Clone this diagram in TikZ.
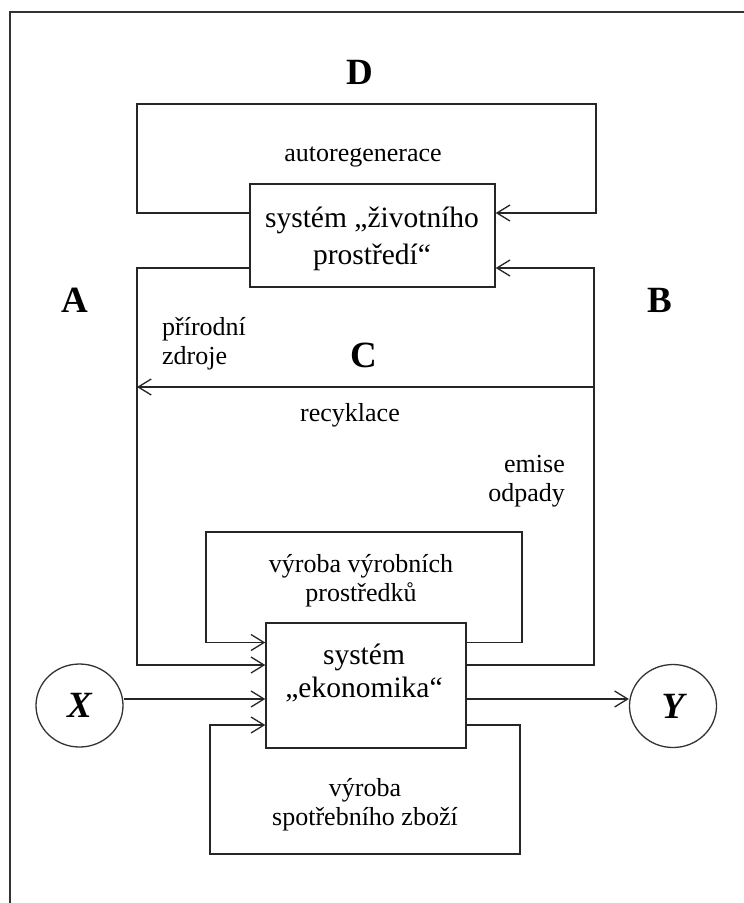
\documentclass[tikz,border=0pt]{standalone}
\usepackage{fontspec}
\setmainfont{Liberation Serif}
\usetikzlibrary{arrows.meta,shapes.geometric}
\begin{document}
\begin{tikzpicture}[x=1pt,y=-1pt,
  ln/.style={draw=black!85, line width=1.5pt},
  arr/.style={ln, -{Straight Barb[length=13pt,width=16pt,line width=1.3pt]}},
  sysbox/.style={draw=black!85, line width=1.5pt, rectangle, inner sep=0pt},
  circ/.style={draw=black!80, line width=1.3pt, ellipse, inner sep=0pt, minimum width=87pt, minimum height=83pt, font=\fontsize{37}{40}\selectfont\itshape\bfseries},
  lbl/.style={inner sep=0pt, font=\fontsize{26}{29}\selectfont},
  boxtxtA/.style={inner sep=0pt, align=center, font=\fontsize{29.5}{37}\selectfont},
  boxtxtB/.style={inner sep=0pt, align=center, font=\fontsize{29.5}{33}\selectfont},
  letter/.style={inner sep=0pt, font=\fontsize{37}{40}\selectfont\bfseries},
  frame/.style={draw=black!80, line width=2pt}
]
\useasboundingbox (0,0) rectangle (744,903);
\fill[white] (0,0) rectangle (744,903);
\draw[frame] (10,903) -- (10,12) -- (744,12);

% main boxes
\node[sysbox, minimum width=245pt, minimum height=103pt] (env) at (372.5,235.5) {};
\node[sysbox, minimum width=200pt, minimum height=125pt] (econ) at (366,685.5) {};
\node[boxtxtA] (envtxt) at (372,238.5) {systém „životního\\prostředí“};
\node[boxtxtB] (econtxt) at (364,673.5) {systém\\„ekonomika“};

% input/output circles
\node[circ] (X) at (79.5,705.5) {X};
\node[circ] (Y) at (673,706) {Y};

% helper coordinates
\coordinate (yD) at (0,213);
\coordinate (yA) at (0,268);
\coordinate (yVV) at (0,642.5);
\coordinate (yAB) at (0,665);
\coordinate (yXY) at (0,699);
\coordinate (ySZ) at (0,725);
\coordinate (cR) at (594,387);
\coordinate (cL) at (137,387);

% connectors
\draw[arr] (env.west |- yD) -| (137,104) -| (596,213) -- (env.east |- yD);
\draw[arr] (env.west |- yA) -| (137,665) -- (econ.west |- yAB);
\draw[arr] (econ.east |- yAB) -| (594,268) -- (env.east |- yA);
\draw[arr] (cR) -- (cL);
\draw[arr] (econ.east |- yVV) -| (522,532) -| (206,642.5) -- (econ.west |- yVV);
\draw[arr] (econ.east |- ySZ) -| (520,854) -| (210,725) -- (econ.west |- ySZ);
\draw[arr] (X.east |- yXY) -- (econ.west |- yXY);
\draw[arr] (econ.east |- yXY) -- (Y.west |- yXY);

% letters
\node[letter] (D) at (360,72) {D};
\node[letter] (A) at (75,300) {A};
\node[letter] (B) at (660,300) {B};
\node[letter] (C) at (364,355) {C};

% labels
\node[lbl] (autoreg) at (363,157) {autoregenerace};
\node[lbl, align=left, anchor=west] (zdroje) at (162,344) {přírodní\\zdroje};
\node[lbl] (recykl) at (350,415) {recyklace};
\node[lbl, align=right, anchor=east] (emise) at (565,481) {emise\\odpady};
\node[lbl, align=center] (vyrvyr) at (361,581) {výroba výrobních\\prostředků};
\node[lbl, align=center] (spotr) at (365,805) {výroba\\spotřebního zboží};
\end{tikzpicture}
\end{document}
